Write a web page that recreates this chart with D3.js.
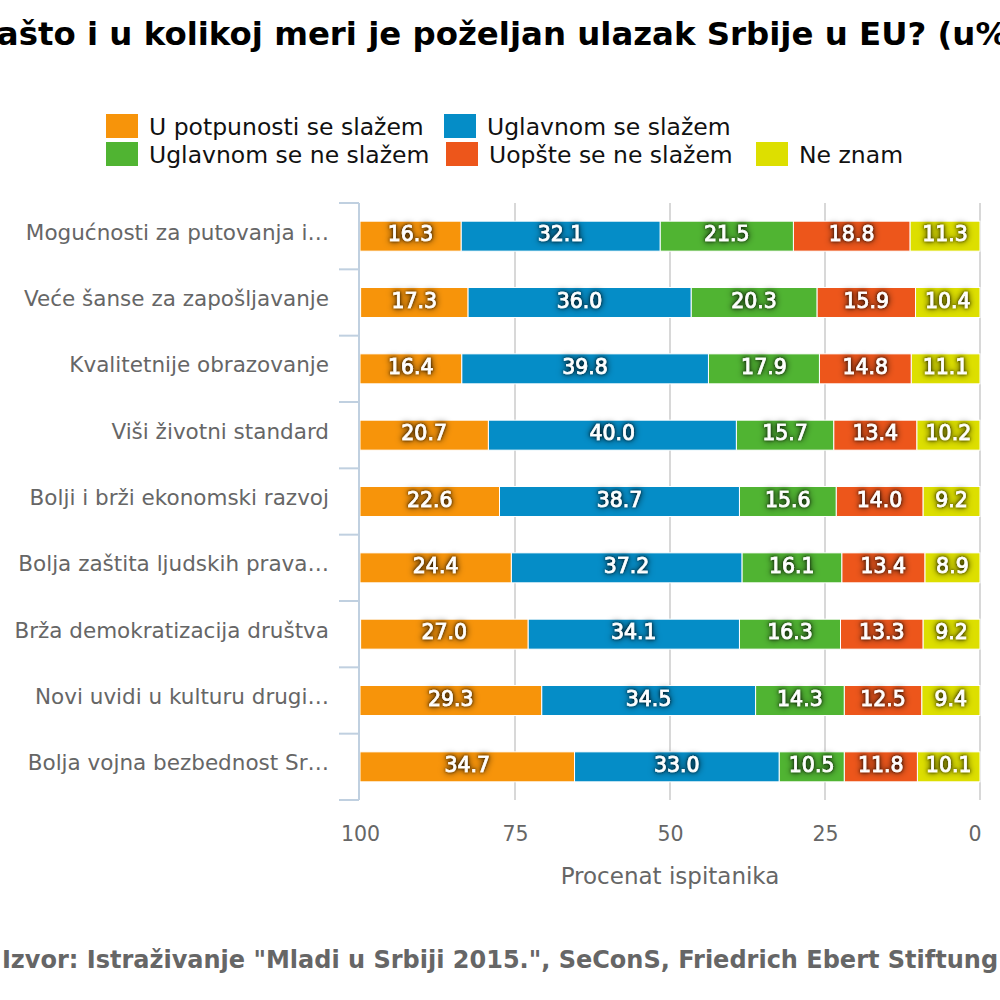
<!DOCTYPE html>
<html><head><meta charset="utf-8">
<script src="https://cdn.jsdelivr.net/npm/d3@7"></script>
<style>
body{margin:0;background:#fff;}
svg{display:block;font-family:"DejaVu Sans",Verdana,sans-serif;}
</style>
</head><body>
<svg id="c" width="1000" height="1000"></svg>
<script>
const titleText = "Zašto i u kolikoj meri je poželjan ulazak Srbije u EU? (u%)";
const sourceText = "Izvor: Istraživanje \"Mladi u Srbiji 2015.\", SeConS, Friedrich Ebert Stiftung";
const axisTitle = "Procenat ispitanika";
const categories = [
  "Mogućnosti za putovanja i…",
  "Veće šanse za zapošljavanje",
  "Kvalitetnije obrazovanje",
  "Viši životni standard",
  "Bolji i brži ekonomski razvoj",
  "Bolja zaštita ljudskih prava…",
  "Brža demokratizacija društva",
  "Novi uvidi u kulturu drugi…",
  "Bolja vojna bezbednost Sr…"
];
const seriesNames = ["U potpunosti se slažem","Uglavnom se slažem","Uglavnom se ne slažem","Uopšte se ne slažem","Ne znam"];
const seriesColors = ["#F7940A","#058DC7","#50B432","#ED561B","#DDDF00"];
const potpuno    = [16.3, 17.3, 16.4, 20.7, 22.6, 24.4, 27.0, 29.3, 34.7];
const uglavnomDa = [32.1, 36.0, 39.8, 40.0, 38.7, 37.2, 34.1, 34.5, 33.0];
const uglavnomNe = [21.5, 20.3, 17.9, 15.7, 15.6, 16.1, 16.3, 14.3, 10.5];
const uopsteNe   = [18.8, 15.9, 14.8, 13.4, 14.0, 13.4, 13.3, 12.5, 11.8];
const neZnam     = [11.3, 10.4, 11.1, 10.2,  9.2,  8.9,  9.2,  9.4, 10.1];
const xTicks = [100, 75, 50, 25, 0];

const seriesValues = [potpuno, uglavnomDa, uglavnomNe, uopsteNe, neZnam];
const rows = categories.map((c, i) => {
  const r = {cat: c};
  seriesNames.forEach((s, j) => r[s] = seriesValues[j][i]);
  return r;
});

const svg = d3.select("#c");
svg.append("rect").attr("width",1000).attr("height",1000).attr("fill","#fff");

const defs = svg.append("defs");
const f = defs.append("filter").attr("id","glow").attr("x","-30%").attr("y","-50%").attr("width","160%").attr("height","200%");
f.append("feGaussianBlur").attr("in","SourceAlpha").attr("stdDeviation",3.5).attr("result","b1");
f.append("feGaussianBlur").attr("in","SourceAlpha").attr("stdDeviation",1.6).attr("result","b2");
const ct = f.append("feComponentTransfer").attr("in","b1").attr("result","b1o");
ct.append("feFuncA").attr("type","linear").attr("slope",1.0);
const ct2 = f.append("feComponentTransfer").attr("in","b2").attr("result","b2o");
ct2.append("feFuncA").attr("type","linear").attr("slope",0.8);
const m = f.append("feMerge");
m.append("feMergeNode").attr("in","b1o");
m.append("feMergeNode").attr("in","b2o");
m.append("feMergeNode").attr("in","SourceGraphic");

const x = d3.scaleLinear().domain([100, 0]).range([360, 980]);
const y = d3.scaleBand().domain(categories).range([203, 800]).paddingInner(0.548).paddingOuter(0.274);

// title
svg.append("text").attr("x", 498).attr("y", 45).attr("text-anchor","middle")
  .attr("font-size", 32.4).attr("font-weight","bold").attr("fill","#000").text(titleText);

// legend
const legendPos = [[106,126],[444,126],[106,154],[446,154],[756,154]];
const lg = svg.append("g");
seriesNames.forEach((s, j) => {
  const [lx, ly] = legendPos[j];
  lg.append("rect").attr("x", lx).attr("y", ly - 12).attr("width", 32).attr("height", 24).attr("fill", seriesColors[j]);
  lg.append("text").attr("x", lx + 43).attr("y", ly + 9).attr("font-size", 23.5).attr("fill","#111").text(s);
});

// grid
const gridG = svg.append("g");
xTicks.filter(t => t !== 100).forEach(t => {
  gridG.append("line").attr("x1", x(t)).attr("x2", x(t)).attr("y1", 203).attr("y2", 800)
    .attr("stroke","#D8D8D8").attr("stroke-width",2);
});

// bars
const stackKeys = seriesNames.slice().reverse();
const stack = d3.stack().keys(stackKeys)(rows);
const barsG = svg.append("g");
stack.forEach(layer => {
  const color = seriesColors[seriesNames.indexOf(layer.key)];
  barsG.selectAll(null).data(layer).enter().append("rect")
    .attr("x", d => x(Math.min(100, d[1])))
    .attr("width", d => x(d[0]) - x(Math.min(100, d[1])))
    .attr("y", d => y(d.data.cat))
    .attr("height", y.bandwidth())
    .attr("fill", color).attr("stroke","#fff").attr("stroke-width",1);
});
const labelsG = svg.append("g");
stack.forEach(layer => {
  labelsG.selectAll(null).data(layer).enter().append("text")
    .attr("x", d => (x(d[0]) + x(Math.min(100, d[1]))) / 2)
    .attr("y", d => y(d.data.cat) + y.bandwidth()/2 + 5)
    .attr("text-anchor","middle").attr("font-size", 20.5).attr("font-weight","normal")
    .attr("fill","#fff").attr("stroke","#fff").attr("stroke-width",0.7).attr("filter","url(#glow)")
    .text(d => (d[1]-d[0]).toFixed(1));
});

// y axis
const yAxis = svg.append("g").attr("transform","translate(359,0)")
  .call(d3.axisLeft(y).tickSize(0).tickPadding(30));
yAxis.select(".domain").remove();
yAxis.selectAll("text").attr("font-size", 21.5).attr("fill","#666").attr("font-family","DejaVu Sans").attr("dy","0.17em");
const step = y.step(), off = (y.step() - y.bandwidth())/2;
const bounds = categories.map(c => y(c) - off).concat([y(categories[categories.length-1]) - off + step]);
bounds.forEach(b => {
  svg.append("line").attr("x1", 339).attr("x2", 359).attr("y1", b).attr("y2", b)
    .attr("stroke","#C0D0E0").attr("stroke-width",2);
});
svg.append("line").attr("x1",359).attr("x2",359).attr("y1",bounds[0]).attr("y2",bounds[bounds.length-1])
  .attr("stroke","#C0D0E0").attr("stroke-width",2);

// x axis labels
const xAxis = svg.append("g").attr("transform","translate(0,800)")
  .call(d3.axisBottom(x).tickValues(xTicks).tickSize(0).tickPadding(26).tickFormat(d3.format("d")));
xAxis.select(".domain").remove();
xAxis.selectAll("text").attr("font-size", 20.5).attr("fill","#666").attr("font-family","DejaVu Sans")
  .attr("text-anchor", d => d === 0 ? "end" : "middle")
  .attr("x", d => d === 0 ? 1 : 0);

svg.append("text").attr("x", x(50)).attr("y", 884).attr("text-anchor","middle")
  .attr("font-size", 23).attr("fill","#666").text(axisTitle);

svg.append("text").attr("x", 500).attr("y", 968).attr("text-anchor","middle")
  .attr("font-size", 24).attr("font-weight","bold").attr("fill","#666").text(sourceText);
</script>
</body></html>
